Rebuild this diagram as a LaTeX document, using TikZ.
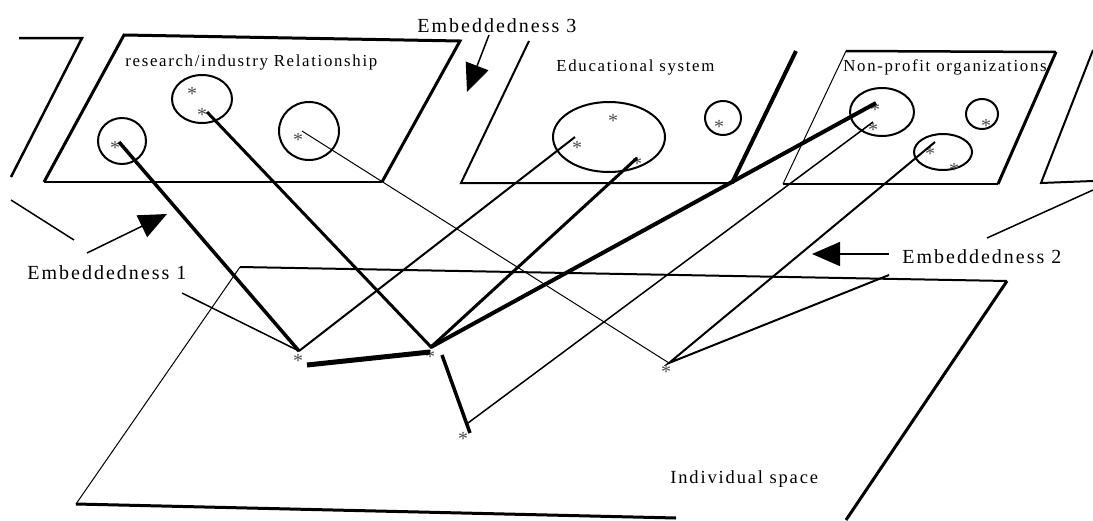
\documentclass[tikz,border=0pt]{standalone}
\usepackage{fontspec}
\setmainfont{Liberation Serif}
\newfontfamily\wide[LetterSpace=10]{Liberation Serif}
\usetikzlibrary{arrows.meta}

\begin{document}
\begin{tikzpicture}[x=0.5pt,y=-0.5pt,
  rim/.style={line width=1.5pt},
  blob/.style={line width=1pt},
  star/.style={inner sep=0pt,text=black!70,font=\fontsize{10}{10}\selectfont,yshift=-1.6pt},
  lbl/.style={anchor=west,inner sep=0pt,font=\wide\fontsize{10}{12}\selectfont},
  sub/.style={anchor=west,inner sep=0pt,font=\wide\fontsize{8.4}{10}\selectfont},
  pointer/.style={line width=0.75pt,-{Triangle[length=14pt,width=12pt]}}]
		\useasboundingbox (0,0) rectangle (1093,520);
		% planes
		\draw[line width=1.25pt] (19,38) -- (82,38) -- (11,177);
		\draw[line width=0.75pt] (11,200) -- (74,240);
		\draw[rim] (44,182) -- (124,35) -- (460,41) -- (382,182);
		\draw[line width=1pt] (382,182) -- (44,182);
		\draw[line width=1pt] (529,41) -- (461,183) -- (732,183);
		\draw[line width=2pt] (732,183) -- (796,51);
		\draw[line width=0.5pt] (783,184) -- (846,51);
		\draw[line width=1.25pt] (846,51) -- (1056,52);
		\draw[rim] (1056,52) -- (998,184);
		\draw[line width=1pt] (998,184) -- (783,184);
		\draw[line width=1pt] (1093,50) -- (1041,183) -- (1093,181);
		\draw[line width=0.75pt] (1093,190) -- (987,238);
		\draw[line width=0.5pt] (76,504) -- (240,267);
		\draw[line width=1pt] (240,267) -- (1007,281);
		\draw[rim] (1007,281) -- (846,520);
		\draw[rim] (76,504) -- (676,518);
		% groups
		\foreach \cx/\cy/\rx/\ry in {122/141/24/23,202/99/30/24,309/131/30/29,609/137/56/35,
		  723/118/18/17,882/112/32/24,982/114/16/15,943/152/29/18}
		{\draw[blob] (\cx,\cy) ellipse[x radius=\rx,y radius=\ry];}
		\foreach \X/\Y [count=\i] in {115/145,192/91,202/112,298/137,613/118,577/145,637/161,719/124,
		  875/107,873/127,986/123,930/151,954/167,298/358,430/354,463/436,666/369}
		{\node[star] (st\i) at (\X,\Y) {*};}
		% labels
		\node[lbl] (emb3) at (417,26) {Embeddedness 3};
		\node[sub] (resind) at (125,62) {research/industry Relationship};
		\node[sub] (edusys) at (556,67) {Educational system};
		\node[sub] (nonprofit) at (843,67) {Non-profit organizations};
		\node[lbl] (emb2) at (902,257) {Embeddedness 2};
		\node[lbl] (emb1) at (27,273) {Embeddedness 1};
		\node[anchor=west,inner sep=0pt,font=\wide\fontsize{9.25}{11}\selectfont] (indiv) at (670,479) {Individual space};
		% arrows
		\coordinate (a3) at (489,35); \coordinate (t3) at (467,92);
		\coordinate (a1) at (87,253); \coordinate (t1) at (167,214);
		\coordinate (a2) at (889,254); \coordinate (t2) at (812,254);
		\draw[pointer] (a3) -- (t3);
		\draw[pointer] (a1) -- (t1);
		\draw[pointer] (a2) -- (t2);
		% ties
		\coordinate (rA) at (119,142); \coordinate (rB) at (207,112); \coordinate (rC) at (302,131);
		\coordinate (eA) at (575,137); \coordinate (eB) at (637,158);
		\coordinate (nA) at (876,103); \coordinate (nB) at (873,122); \coordinate (nC) at (935,142);
		\coordinate (iL) at (299,351); \coordinate (iM) at (431,347);
		\coordinate (iR) at (669,363); \coordinate (iB) at (468,423);
		\coordinate (e1) at (182,293); \coordinate (e2) at (889,275);
		\coordinate (h1) at (307,365); \coordinate (h2) at (430,352);
		\coordinate (h3) at (442,355); \coordinate (h4) at (470,433);
		\draw[line width=1.75pt] (rA) -- (iL);
		\draw[line width=0.75pt] (e1) -- (iL);
		\draw[line width=1pt] (iL) -- (eA);
		\draw[line width=1.5pt] (rB) -- (iM) -- (eB);
		\draw[line width=2pt] (iM) -- (nA);
		\draw[line width=0.5pt] (rC) -- (iR);
		\draw[line width=1pt] (nC) -- (iR) -- (e2);
		\draw[line width=0.75pt] (iB) -- (nB);
		\draw[line width=2.5pt] (h1) -- (h2);
		\draw[line width=1.75pt] (h3) -- (h4);
	   \end{tikzpicture}
\end{document}
